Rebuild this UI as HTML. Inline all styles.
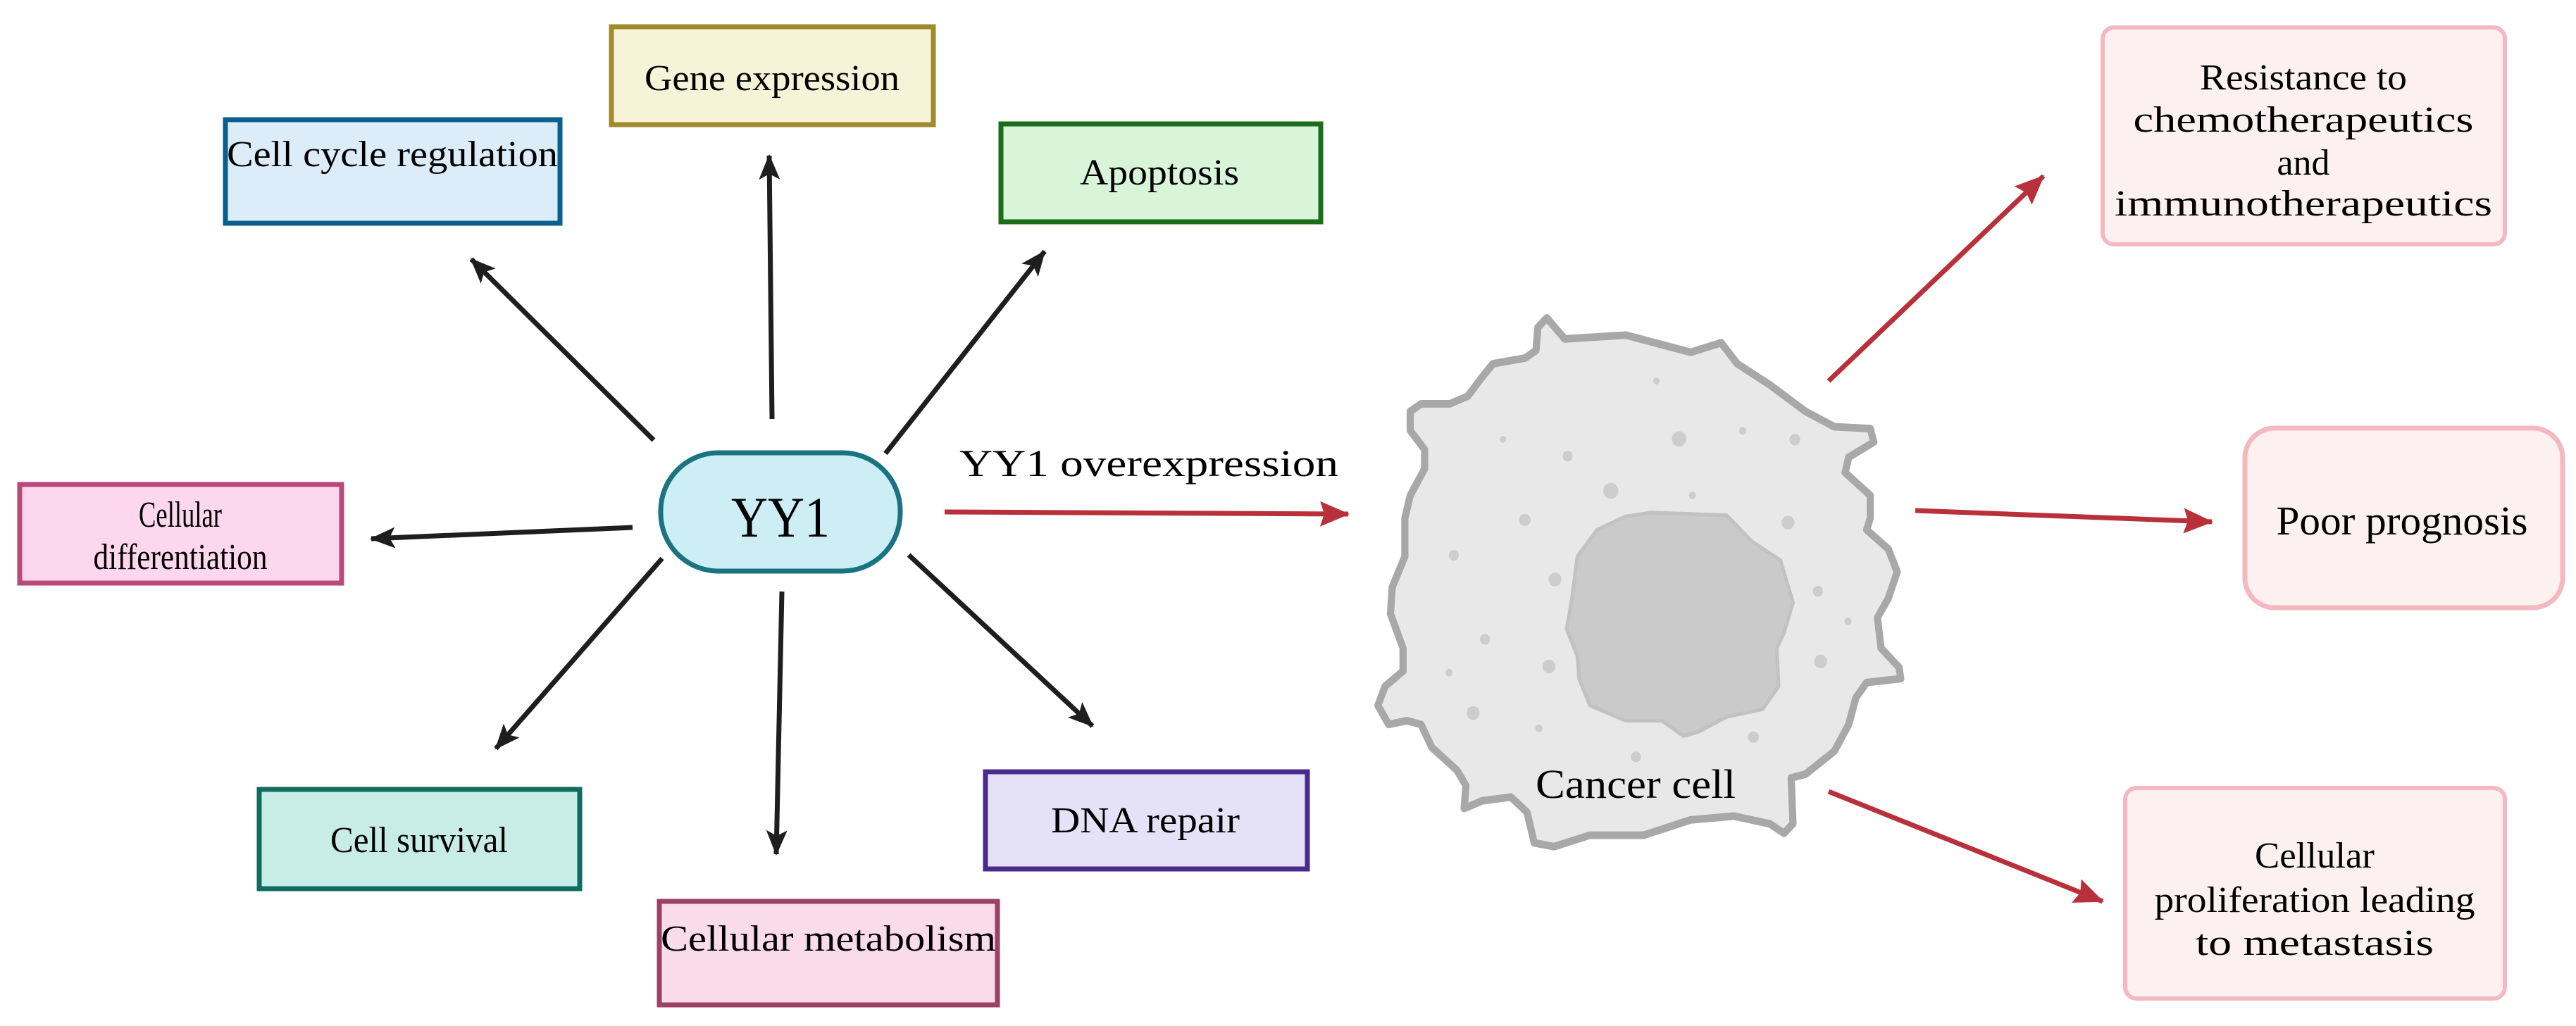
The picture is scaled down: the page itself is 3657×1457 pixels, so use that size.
<!DOCTYPE html>
<html><head><meta charset="utf-8"><style>html,body{margin:0;padding:0;background:#fff}svg{display:block}</style></head>
<body>
<svg width="3657" height="1457" viewBox="0 0 3657 1457" xmlns="http://www.w3.org/2000/svg" font-family="'Liberation Serif', serif">
<defs>
<marker id="ab" markerUnits="userSpaceOnUse" markerWidth="40" markerHeight="40" refX="34" refY="15" orient="auto"><path d="M0,0 L36,15 L0,30 L8,15 Z" fill="#1e1e1e"/></marker>
<marker id="ar" markerUnits="userSpaceOnUse" markerWidth="50" markerHeight="50" refX="40" refY="18" orient="auto"><path d="M0,0 L42,18 L0,36 L6,18 Z" fill="#b8313a"/></marker>
</defs>
<!-- boxes -->
<rect x="868" y="38" width="457" height="139" fill="#f5f3d8" stroke="#a08a2a" stroke-width="7"/>
<rect x="320" y="170" width="475" height="147" fill="#dcedf9" stroke="#0a5f8c" stroke-width="7"/>
<rect x="1421" y="176" width="454" height="139" fill="#d9f5d9" stroke="#1a6e1a" stroke-width="7"/>
<rect x="28" y="688" width="457" height="140" fill="#fdd7ee" stroke="#b84a7a" stroke-width="7"/>
<rect x="368" y="1121" width="455" height="141" fill="#c8ede7" stroke="#116b5e" stroke-width="7"/>
<rect x="936" y="1280" width="480" height="147" fill="#fadce8" stroke="#9a4264" stroke-width="7"/>
<rect x="1399" y="1096" width="457" height="138" fill="#e5e2f7" stroke="#4a2a8a" stroke-width="7"/>
<rect x="938" y="643" width="340" height="168" rx="82" fill="#cdeef5" stroke="#1a7380" stroke-width="7"/>
<rect x="2985" y="39" width="571" height="308" rx="16" fill="#fdf0f0" stroke="#f4b9c0" stroke-width="6"/>
<rect x="3187" y="608" width="451" height="255" rx="42" fill="#fdf0f0" stroke="#f4b9c0" stroke-width="7"/>
<rect x="3017" y="1119" width="539" height="299" rx="16" fill="#fdf0f0" stroke="#f4b9c0" stroke-width="6"/>
<!-- black arrows -->
<g stroke="#1e1e1e" stroke-width="7" fill="none">
<line x1="1096" y1="595" x2="1092" y2="221" marker-end="url(#ab)"/>
<line x1="928" y1="625" x2="669" y2="368" marker-end="url(#ab)"/>
<line x1="1257" y1="644" x2="1483" y2="357" marker-end="url(#ab)"/>
<line x1="898" y1="749" x2="527" y2="765" marker-end="url(#ab)"/>
<line x1="940" y1="793" x2="704" y2="1063" marker-end="url(#ab)"/>
<line x1="1110" y1="840" x2="1102" y2="1213" marker-end="url(#ab)"/>
<line x1="1290" y1="788" x2="1551" y2="1031" marker-end="url(#ab)"/>
</g>
<!-- red arrows -->
<g stroke="#b8313a" stroke-width="7" fill="none">
<line x1="1341" y1="727" x2="1914" y2="730" marker-end="url(#ar)"/>
<line x1="2596" y1="541" x2="2901" y2="250" marker-end="url(#ar)"/>
<line x1="2719" y1="725" x2="3140" y2="741" marker-end="url(#ar)"/>
<line x1="2596" y1="1124" x2="2985" y2="1280" marker-end="url(#ar)"/>
</g>
<!-- cell -->
<g transform="translate(1900,400) scale(0.5102,0.5421)">
<polygon points="580,95 630,150 800,140 980,185 1065,160 1110,215 1200,270 1300,340 1380,380 1480,385 1490,420 1420,460 1410,500 1480,560 1480,620 1470,650 1530,700 1555,760 1530,830 1500,880 1510,960 1560,1010 1565,1040 1470,1050 1440,1090 1420,1160 1380,1230 1300,1290 1260,1300 1265,1420 1240,1445 1200,1420 1100,1400 980,1410 850,1450 700,1450 600,1480 545,1470 525,1390 480,1350 400,1360 350,1380 355,1320 330,1280 260,1220 230,1160 190,1150 140,1160 110,1110 130,1060 180,1020 180,960 145,870 150,800 185,720 185,620 200,560 240,490 240,440 200,390 200,340 230,320 310,320 360,300 400,250 430,215 520,200 550,180 555,120" fill="#e8e8e8" stroke="#a8a8a8" stroke-width="20" stroke-linejoin="round"/>
<polygon points="870,605 1080,612 1150,680 1230,730 1265,840 1240,920 1220,960 1225,1060 1180,1120 1080,1140 1000,1180 960,1190 900,1150 800,1150 700,1110 670,1040 665,980 635,910 650,830 665,720 720,650 800,615" fill="#cacaca" stroke="#c2c2c2" stroke-width="10" stroke-linejoin="round"/>
<g fill="#cdcdcd">
<circle cx="885" cy="260" r="9"/><circle cx="458" cy="413" r="9"/><circle cx="948" cy="412" r="20"/><circle cx="1125" cy="391" r="10"/><circle cx="1270" cy="414" r="15"/><circle cx="638" cy="457" r="14"/><circle cx="758" cy="548" r="21"/><circle cx="985" cy="560" r="10"/><circle cx="519" cy="624" r="16"/><circle cx="1251" cy="631" r="18"/><circle cx="321" cy="717" r="14"/><circle cx="603" cy="780" r="18"/><circle cx="1334" cy="811" r="14"/><circle cx="1418" cy="890" r="10"/><circle cx="408" cy="937" r="14"/><circle cx="586" cy="1008" r="18"/><circle cx="308" cy="1024" r="10"/><circle cx="1342" cy="995" r="18"/><circle cx="375" cy="1130" r="18"/><circle cx="558" cy="1170" r="10"/><circle cx="1155" cy="1193" r="15"/><circle cx="828" cy="1245" r="14"/>
</g>
</g>
<!-- text -->
<g fill="#000" font-size="52" text-anchor="middle" lengthAdjust="spacingAndGlyphs">
<text x="1096" y="128" textLength="362" lengthAdjust="spacingAndGlyphs">Gene expression</text>
<text x="557" y="236" textLength="470" lengthAdjust="spacingAndGlyphs">Cell cycle regulation</text>
<text x="1646" y="262" textLength="226" lengthAdjust="spacingAndGlyphs">Apoptosis</text>
<text x="256" y="748" textLength="118" lengthAdjust="spacingAndGlyphs">Cellular</text>
<text x="256" y="808" textLength="247" lengthAdjust="spacingAndGlyphs">differentiation</text>
<text x="1108" y="762" font-size="82" textLength="140" lengthAdjust="spacingAndGlyphs">YY1</text>
<text x="595" y="1210" textLength="252" lengthAdjust="spacingAndGlyphs">Cell survival</text>
<text x="1176" y="1350" textLength="476" lengthAdjust="spacingAndGlyphs">Cellular metabolism</text>
<text x="1626" y="1182" textLength="268" lengthAdjust="spacingAndGlyphs">DNA repair</text>
<text x="1631" y="676" font-size="54" textLength="538" lengthAdjust="spacingAndGlyphs">YY1 overexpression</text>
<text x="2322" y="1133" font-size="58" textLength="284" lengthAdjust="spacingAndGlyphs">Cancer cell</text>
<text x="3270" y="127" textLength="294" lengthAdjust="spacingAndGlyphs">Resistance to</text>
<text x="3270" y="187" textLength="483" lengthAdjust="spacingAndGlyphs">chemotherapeutics</text>
<text x="3270" y="248" textLength="75" lengthAdjust="spacingAndGlyphs">and</text>
<text x="3270" y="306" textLength="536" lengthAdjust="spacingAndGlyphs">immunotherapeutics</text>
<text x="3410" y="759" font-size="58" textLength="357" lengthAdjust="spacingAndGlyphs">Poor prognosis</text>
<text x="3286" y="1232" textLength="170" lengthAdjust="spacingAndGlyphs">Cellular</text>
<text x="3286" y="1295" textLength="455" lengthAdjust="spacingAndGlyphs">proliferation leading</text>
<text x="3286" y="1356" textLength="338" lengthAdjust="spacingAndGlyphs">to metastasis</text>
</g>
</svg>
</body></html>
